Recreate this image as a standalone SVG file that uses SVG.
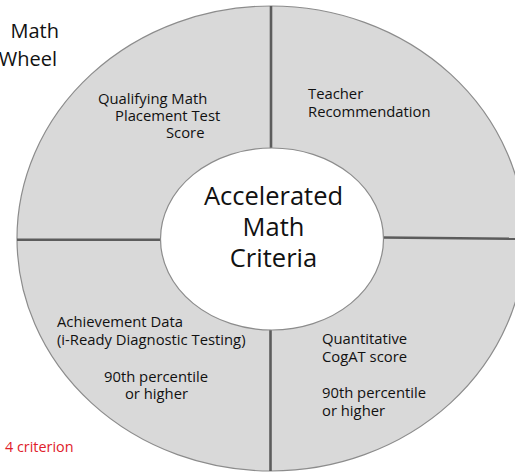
<svg xmlns="http://www.w3.org/2000/svg" width="515" height="474" viewBox="0 0 515 474">
  <style>
    .ring { fill: #d9d9d9; stroke: #8c8c8c; stroke-width: 1.2; }
    .hub { fill: #ffffff; stroke: #8c8c8c; stroke-width: 1.2; }
    .divider { stroke: #5c5c5c; stroke-width: 2.6; fill: none; }
    text { font-family: "Open Sans", "Liberation Sans", sans-serif; fill: #111111; }
    .title { font-size: 20px; }
    .seg { font-size: 14.8px; }
    .hubtxt { font-size: 25.5px; text-anchor: middle; }
    .note { font-size: 14.4px; fill: #e0202a; }
  </style>

  <rect width="515" height="474" fill="#ffffff"/>

  <g id="title">
    <text class="title" x="59" y="38" text-anchor="end">Math</text>
    <text class="title" x="57" y="66" text-anchor="end">Wheel</text>
  </g>

  <g id="wheel">
    <ellipse class="ring" cx="271" cy="238.5" rx="254" ry="232.5"/>
  </g>

  <g id="connectors">
    <line class="divider" x1="271" y1="6" x2="271" y2="150"/>
    <line class="divider" x1="17" y1="239.7" x2="162" y2="239.7"/>
    <line class="divider" x1="382" y1="237.5" x2="515" y2="238.8"/>
    <line class="divider" x1="270.5" y1="328" x2="270.5" y2="471"/>
  </g>

  <g id="hub">
    <ellipse class="hub" cx="272" cy="239" rx="111.5" ry="91"/>
    <text class="hubtxt" x="273.5" y="205">Accelerated</text>
    <text class="hubtxt" x="273.5" y="236">Math</text>
    <text class="hubtxt" x="273.5" y="267">Criteria</text>
  </g>

  <g id="placement">
    <text class="seg" x="98" y="103.5">Qualifying Math</text>
    <text class="seg" x="115" y="120.5">Placement Test</text>
    <text class="seg" x="166" y="137.5">Score</text>
  </g>

  <g id="teacher">
    <text class="seg" x="308" y="98.5">Teacher</text>
    <text class="seg" x="308" y="116.5">Recommendation</text>
  </g>

  <g id="achievement">
    <text class="seg" x="57" y="327">Achievement Data</text>
    <text class="seg" x="57" y="345">(i-Ready Diagnostic Testing)</text>
    <text class="seg" x="156" y="381.5" text-anchor="middle">90th percentile</text>
    <text class="seg" x="156.5" y="398.5" text-anchor="middle">or higher</text>
  </g>

  <g id="cogat">
    <text class="seg" x="322" y="343.5">Quantitative</text>
    <text class="seg" x="322" y="361.5">CogAT score</text>
    <text class="seg" x="322" y="398">90th percentile</text>
    <text class="seg" x="322" y="416">or higher</text>
  </g>

  <g id="note">
    <text class="note" x="5" y="451.5">4 criterion</text>
  </g>
</svg>
